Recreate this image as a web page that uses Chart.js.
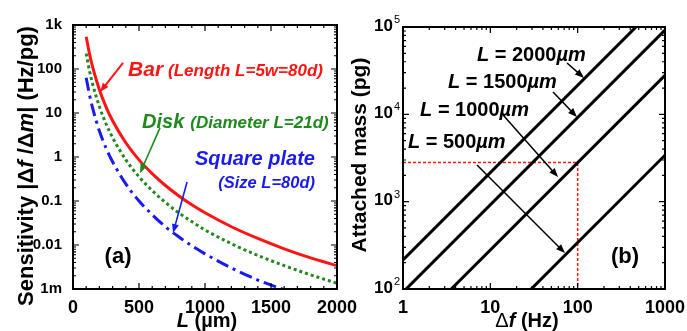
<!DOCTYPE html>
<html>
<head>
<meta charset="utf-8">
<script src="https://cdn.jsdelivr.net/npm/chart.js@4"></script>
<style>
    body { margin: 0; background: #fff; }
    #wrap { position: relative; width: 687px; height: 331px; overflow: hidden; }
    .panel { position: absolute; top: 0; height: 331px; }
</style>
</head>
<body>
<div id="wrap">
    <div class="panel" style="left:0;width:360px"><canvas id="chart-a"></canvas></div>
    <div class="panel" style="left:343px;width:344px"><canvas id="chart-b"></canvas></div>
</div>
<script>
// (a) sensitivity vs length
const lengthUm = [100, 125, 150, 200, 250, 300, 400, 500, 600, 700, 800, 900, 1000, 1200, 1400, 1600, 1800, 2000];
const barSens = [540, 221, 107, 33.8, 13.8, 6.67, 2.11, 0.86, 0.42, 0.225, 0.132, 0.082, 0.054, 0.026, 0.0141, 0.0082, 0.0051, 0.0034];
const diskSens = [225, 91, 44, 14, 5.7, 2.75, 0.87, 0.355, 0.172, 0.093, 0.054, 0.034, 0.022, 0.0107, 0.0058, 0.0034, 0.0021, 0.00135];
const plateSens = [63, 26, 12.5, 3.9, 1.6, 0.78, 0.245, 0.1, 0.049, 0.026, 0.0154, 0.0096, 0.0063, 0.003, 0.0016, 0.00096, null, null];
const sensTicks = [0.001, 0.01, 0.1, 1, 10, 100, 1000];
const sensTickLabels = ["1m", "0.01", "0.1", "1", "10", "100", "1k"];
const lengthTicks = [0, 500, 1000, 1500, 2000];

// (b) attached mass vs frequency shift
const freqHz = [1, 1000];
const mass2000 = [215, 215000];
const mass1500 = [92, 92000];
const mass1000 = [28, 28000];
const mass500 = [3.4, 3400];
const guideFreq = [1, 100, 100];
const guideMass = [2800, 2800, 100];
const freqTicks = [1, 10, 100, 1000];
const massTicks = [100, 1000, 10000, 100000];
const massTickExp = ["2", "3", "4", "5"];

const FAMILY = '"Liberation Sans", Arial, sans-serif';
const RED = "#ff1414";
const GREEN = "#1e8a1e";
const BLUE = "#1a1aee";

function font(size, style) {
    return `${style || "bold"} ${size}px ${FAMILY}`;
}

function points(xs, ys) {
    return xs.map((x, i) => ({ x, y: ys[i] })).filter((p) => p.y !== null);
}

function drawRuns(ctx, x, y, runs, align) {
    let w = 0;
    runs.forEach((r) => {
        ctx.font = r.font;
        w += ctx.measureText(r.text).width;
    });
    let cx = align === "center" ? x - w / 2 : align === "right" ? x - w : x;
    ctx.textBaseline = "middle";
    ctx.textAlign = "left";
    runs.forEach((r) => {
        ctx.font = r.font;
        ctx.fillStyle = r.color || "#000";
        ctx.fillText(r.text, cx, y);
        cx += ctx.measureText(r.text).width;
    });
    return cx;
}

function arrow(ctx, x1, y1, x2, y2, color, w) {
    const a = Math.atan2(y2 - y1, x2 - x1);
    const h = 9;
    const s = 3.5;
    ctx.strokeStyle = color;
    ctx.fillStyle = color;
    ctx.lineWidth = w;
    ctx.beginPath();
    ctx.moveTo(x1, y1);
    ctx.lineTo(x2 - h * 0.8 * Math.cos(a), y2 - h * 0.8 * Math.sin(a));
    ctx.stroke();
    ctx.beginPath();
    ctx.moveTo(x2, y2);
    ctx.lineTo(x2 - h * Math.cos(a) + s * Math.sin(a), y2 - h * Math.sin(a) - s * Math.cos(a));
    ctx.lineTo(x2 - h * Math.cos(a) - s * Math.sin(a), y2 - h * Math.sin(a) + s * Math.cos(a));
    ctx.closePath();
    ctx.fill();
}

function logMinors(lo, hi) {
    const out = [];
    for (let d = lo; d < hi; d *= 10) {
        for (let k = 2; k <= 9; k++) out.push(d * k);
    }
    return out;
}

function frameTicks(chart, xMajor, xMinor, yMajor, yMinor) {
    const { ctx, chartArea: a, scales } = chart;
    ctx.save();
    ctx.strokeStyle = "#000";
    ctx.lineWidth = 1.2;
    ctx.beginPath();
    const xs = (vals, len) => vals.forEach((v) => {
        const p = scales.x.getPixelForValue(v);
        ctx.moveTo(p, a.bottom); ctx.lineTo(p, a.bottom - len);
        ctx.moveTo(p, a.top); ctx.lineTo(p, a.top + len);
    });
    const ys = (vals, len) => vals.forEach((v) => {
        const p = scales.y.getPixelForValue(v);
        ctx.moveTo(a.left, p); ctx.lineTo(a.left + len, p);
        ctx.moveTo(a.right, p); ctx.lineTo(a.right - len, p);
    });
    xs(xMajor, 6); xs(xMinor, 3);
    ys(yMajor, 6); ys(yMinor, 3);
    ctx.stroke();
    ctx.lineWidth = 2;
    ctx.strokeRect(a.left, a.top, a.width, a.height);
    ctx.restore();
}

function axisOptions(type, min, max, ticks, fit, tickOpts) {
    return {
        type, min, max,
        grid: { display: false },
        border: { display: false },
        afterBuildTicks: (s) => { s.ticks = ticks.map((v) => ({ value: v })); },
        afterFit: (s) => {
            fit(s);
            s.paddingLeft = 0; s.paddingRight = 0; s.paddingTop = 0; s.paddingBottom = 0;
        },
        ticks: Object.assign({
            color: "#000",
            autoSkip: false,
            maxRotation: 0,
        }, tickOpts),
    };
}

const annotateA = {
    id: "annotateA",
    afterDraw(chart) {
        const { ctx, scales: { x, y } } = chart;
        const px = (v) => x.getPixelForValue(v);
        const py = (v) => y.getPixelForValue(v);
        frameTicks(chart, lengthTicks, [100, 200, 300, 400, 600, 700, 800, 900, 1100, 1200, 1300, 1400, 1600, 1700, 1800, 1900],
            sensTicks, logMinors(0.001, 1000));
        ctx.save();
        // curve labels
        let end = drawRuns(ctx, px(417), py(95), [{ text: "Bar", font: font(21, "italic bold"), color: RED }]);
        drawRuns(ctx, end + 5, py(95) + 1, [{ text: "(Length L=5w=80d)", font: font(17, "italic bold"), color: RED }]);
        arrow(ctx, px(379), py(137), px(205), py(30), RED, 2);

        end = drawRuns(ctx, px(523), py(6.2), [{ text: "Disk", font: font(20, "italic bold"), color: GREEN }]);
        drawRuns(ctx, end + 6, py(6.2) + 1, [{ text: "(Diameter L=21d)", font: font(17, "italic bold"), color: GREEN }]);
        arrow(ctx, px(659), py(4.6), px(508), py(0.43), GREEN, 1.6);

        drawRuns(ctx, px(1833), py(0.9), [{ text: "Square plate", font: font(20, "italic bold"), color: BLUE }], "right");
        drawRuns(ctx, px(1833), py(0.257), [{ text: "(Size L=80d)", font: font(16.5, "italic bold"), color: BLUE }], "right");
        arrow(ctx, px(864), py(0.27), px(758), py(0.0187), BLUE, 1.6);

        drawRuns(ctx, px(341), py(0.0053), [{ text: "(a)", font: font(22) }], "center");

        // axis titles
        drawRuns(ctx, 207, 321, [
            { text: "L", font: font(20, "italic bold") },
            { text: " (µm)", font: font(20) },
        ], "center");
        ctx.translate(27, 166);
        ctx.rotate(-Math.PI / 2);
        drawRuns(ctx, 0, 0, [
            { text: "Sensitivity |Δ", font: font(22) },
            { text: "f", font: font(22, "italic bold") },
            { text: " /Δ", font: font(22) },
            { text: "m", font: font(22, "italic bold") },
            { text: "| (Hz/pg)", font: font(22) },
        ], "center");
        ctx.restore();
    },
};

const annotateB = {
    id: "annotateB",
    afterDraw(chart) {
        const { ctx, chartArea: a, scales: { x, y } } = chart;
        const px = (v) => x.getPixelForValue(v);
        const py = (v) => y.getPixelForValue(v);
        frameTicks(chart, freqTicks, logMinors(1, 1000), massTicks, logMinors(100, 100000));
        ctx.save();
        // y tick labels as powers of ten
        massTicks.forEach((v, i) => {
            drawRuns(ctx, a.left - 10, py(v) - 1, [{ text: "10", font: font(17) }], "right");
            drawRuns(ctx, a.left - 9, py(v) - 7, [{ text: massTickExp[i], font: font(11, "normal") }]);
        });

        const labels = [
            ["2000", 7.03, 47800],
            ["1500", 3.28, 23400],
            ["1000", 1.57, 11200],
            ["500", 1.14, 4700],
        ];
        labels.forEach(([n, fx, my]) => {
            drawRuns(ctx, px(fx), py(my), [
                { text: "L", font: font(20, "italic bold") },
                { text: " = " + n, font: font(20) },
                { text: "µm", font: font(20, "italic bold") },
            ]);
        });
        arrow(ctx, px(75.5), py(38700), px(118), py(26100), "#000", 1.5);
        arrow(ctx, px(52.2), py(18000), px(98), py(9310), "#000", 1.5);
        arrow(ctx, px(14), py(9830), px(59.6), py(1915), "#000", 1.5);
        arrow(ctx, px(7.03), py(2630), px(71.6), py(258), "#000", 1.5);

        drawRuns(ctx, px(348), py(232), [{ text: "(b)", font: font(22) }], "center");

        drawRuns(ctx, 184, 321, [
            { text: "Δ", font: font(20, "normal") },
            { text: "f", font: font(20, "italic bold") },
            { text: " (Hz)", font: font(20) },
        ], "center");
        ctx.translate(17, 155);
        ctx.rotate(-Math.PI / 2);
        drawRuns(ctx, 0, 0, [{ text: "Attached mass (pg)", font: font(21) }], "center");
        ctx.restore();
    },
};

const common = {
    responsive: true,
    maintainAspectRatio: false,
    animation: false,
    plugins: { legend: { display: false }, tooltip: { enabled: false } },
    elements: { point: { radius: 0 } },
};

new Chart(document.getElementById("chart-a"), {
    type: "line",
    data: {
        datasets: [
            {
                data: points(lengthUm, barSens),
                borderColor: RED,
                borderWidth: 3,
                cubicInterpolationMode: "monotone",
            },
            {
                data: points(lengthUm, diskSens),
                borderColor: GREEN,
                borderWidth: 3,
                borderDash: [3, 3],
                cubicInterpolationMode: "monotone",
            },
            {
                data: points(lengthUm, plateSens),
                borderColor: BLUE,
                borderWidth: 3,
                borderDash: [13, 5, 3, 5],
                cubicInterpolationMode: "monotone",
            },
        ],
    },
    options: Object.assign({}, common, {
        layout: { padding: { left: 0, right: 23, top: 25, bottom: 0 } },
        scales: {
            x: axisOptions("linear", 0, 2000, lengthTicks, (s) => { s.height = 42; },
                {
                    font: { family: FAMILY, size: 18, weight: "bold" },
                    padding: 0,
                    callback: (v) => String(v),
                }),
            y: axisOptions("logarithmic", 0.001, 1000, sensTicks, (s) => { s.width = 73; },
                {
                    font: { family: FAMILY, size: 15, weight: "bold" },
                    padding: 3,
                    callback: (v) => {
                        const i = sensTicks.findIndex((t) => Math.abs(Math.log10(t) - Math.log10(v)) < 1e-6);
                        return i < 0 ? "" : sensTickLabels[i];
                    },
                }),
        },
    }),
    plugins: [annotateA],
});

new Chart(document.getElementById("chart-b"), {
    type: "line",
    data: {
        datasets: [
            { data: points(freqHz, mass2000), borderColor: "#000", borderWidth: 3 },
            { data: points(freqHz, mass1500), borderColor: "#000", borderWidth: 3 },
            { data: points(freqHz, mass1000), borderColor: "#000", borderWidth: 3 },
            { data: points(freqHz, mass500), borderColor: "#000", borderWidth: 3 },
            { data: points(guideFreq, guideMass), borderColor: RED, borderWidth: 1.5, borderDash: [3, 2] },
        ],
    },
    options: Object.assign({}, common, {
        layout: { padding: { left: 0, right: 22, top: 27, bottom: 0 } },
        scales: {
            x: axisOptions("logarithmic", 1, 1000, freqTicks, (s) => { s.height = 42; },
                {
                    font: { family: FAMILY, size: 18, weight: "bold" },
                    padding: 0,
                    callback: (v) => String(Math.round(v)),
                }),
            y: axisOptions("logarithmic", 100, 100000, massTicks, (s) => { s.width = 60; },
                { display: false }),
        },
    }),
    plugins: [annotateB],
});
</script>
</body>
</html>
